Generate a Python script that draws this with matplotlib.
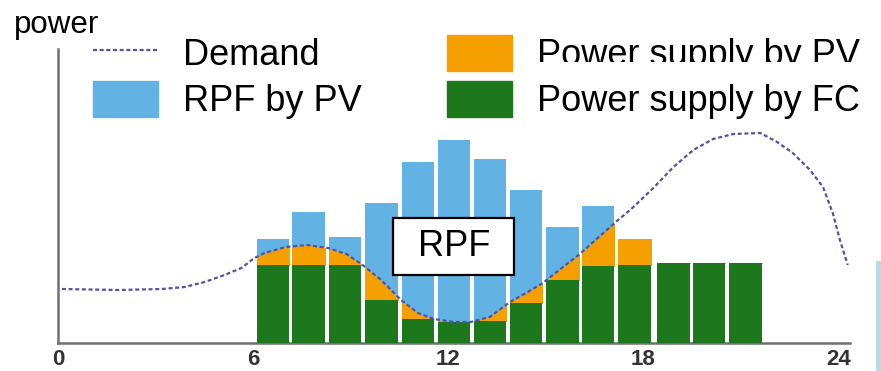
import matplotlib.pyplot as plt
from matplotlib.lines import Line2D
from matplotlib.patches import Patch, Rectangle
from matplotlib.transforms import Bbox, TransformedBbox

plt.rcParams['font.family'] = ['Liberation Sans', 'DejaVu Sans']

# hourly bars (bar centre in hours)
bar_hours = [6.61, 7.71, 8.82, 9.95, 11.07, 12.18, 13.28, 14.40, 15.51, 16.61, 17.73, 18.93, 20.03, 21.15]
fc_supply = [7.8, 7.8, 7.8, 4.3, 2.4, 2.1, 2.2, 4.0, 6.3, 7.7, 7.8, 8.0, 8.0, 8.0]
pv_top = [10.4, 13.1, 10.6, 14.0, 18.1, 20.3, 18.4, 15.3, 11.6, 13.7, 10.4, 8.0, 8.0, 8.0]

# demand curve
demand_h = [0.12, 1.87, 3.19, 3.90, 4.51, 5.12, 5.64, 6.04, 6.35, 7.0, 7.67, 8.31, 8.87, 9.33,
            9.94, 10.55, 11.07, 11.56, 12.18, 12.70, 13.28, 13.9, 14.39, 14.91, 15.49, 16.01,
            16.6, 17.12, 17.7, 18.31, 18.93, 19.54, 20.15, 20.77, 21.6, 22.12, 22.6, 23.13,
            23.53, 23.83, 24.05, 24.29]
demand_v = [5.4, 5.3, 5.4, 5.6, 6.1, 6.8, 7.5, 8.5, 9.0, 9.6, 9.8, 9.5, 8.9, 7.9,
            6.3, 4.3, 3.0, 2.4, 2.1, 2.1, 2.6, 4.1, 5.0, 6.0, 7.5, 8.8,
            10.5, 12.0, 13.6, 15.5, 17.6, 19.3, 20.4, 20.9, 21.0, 20.1, 19.0, 17.3,
            15.6, 13.0, 10.3, 7.8]

xticks = [0, 6, 12, 18, 24]

blue = '#62b2e4'
orange = '#f5a000'
green = '#1d781d'
line_col = '#5252a6'

fig = plt.figure(figsize=(8.81, 3.71), dpi=100)
ax = fig.add_axes([58 / 881, 28 / 371, 792 / 881, 294 / 371])

heights = [t - f for t, f in zip(pv_top, fc_supply)]
pv_bars = ax.bar(bar_hours, heights, width=1.0, bottom=fc_supply, color=blue, zorder=2)
for rect in pv_bars.patches:
    fill = ax.fill_between(demand_h, 0, demand_v, color=orange, lw=0, zorder=3)
    fill.set_clip_path(rect)
ax.bar(bar_hours, fc_supply, width=1.0, color=green, zorder=4)

ax.plot(demand_h, demand_v, color=line_col, lw=1.6, ls=(0, (1.8, 1.2)), zorder=5)

ax.add_patch(Rectangle((10.31, 6.8), 3.71, 5.7, facecolor='white', edgecolor='black',
                       lw=1.6, zorder=6))
ax.text(12.18, 9.7, 'RPF', fontsize=26, ha='center', va='center', zorder=7)

ax.set_xlim(0, 24.36)
ax.set_ylim(0, 29.4)
ax.set_xticks(xticks)
ax.set_xticklabels([str(t) for t in xticks], fontsize=16, fontweight='bold', color='#333333')
ax.tick_params(axis='x', length=0, pad=4)
ax.set_yticks([])
for side in ['top', 'right']:
    ax.spines[side].set_visible(False)
for side in ['left', 'bottom']:
    ax.spines[side].set_color('#707070')
    ax.spines[side].set_linewidth(1.8)

fig.text(14 / 881, 1 - 25 / 371, 'power', fontsize=22.5, va='center', ha='left')

handles = [
    Line2D([], [], color=line_col, lw=1.6, ls=(0, (1.8, 1.2))),
    Patch(color=blue),
    Patch(color=orange),
    Patch(color=green),
]
labels = ['Demand', 'RPF by PV', 'Power supply by PV', 'Power supply by FC']
leg = fig.legend(handles, labels, ncol=2, loc='upper left', bbox_to_anchor=(93 / 881, 1 - 35 / 371),
                 frameon=False, fontsize=26, borderpad=0, borderaxespad=0, handlelength=1.8,
                 handleheight=1.15, handletextpad=0.7, columnspacing=2.35, labelspacing=0.22)

# the top-right label is cut off at its bottom in the original
clip = TransformedBbox(Bbox([[520 / 881, 1 - 62 / 371], [1, 1]]), fig.transFigure)
leg.get_texts()[2].set_clip_box(clip)
leg.get_texts()[2].set_clip_on(True)

# light strip on the right edge of the screenshot
fig.patches.append(Rectangle((876 / 881, 0), 5 / 881, 110 / 371, transform=fig.transFigure,
                             facecolor='#bcd9e4', edgecolor='none'))

fig.savefig('out.png', dpi=100)
